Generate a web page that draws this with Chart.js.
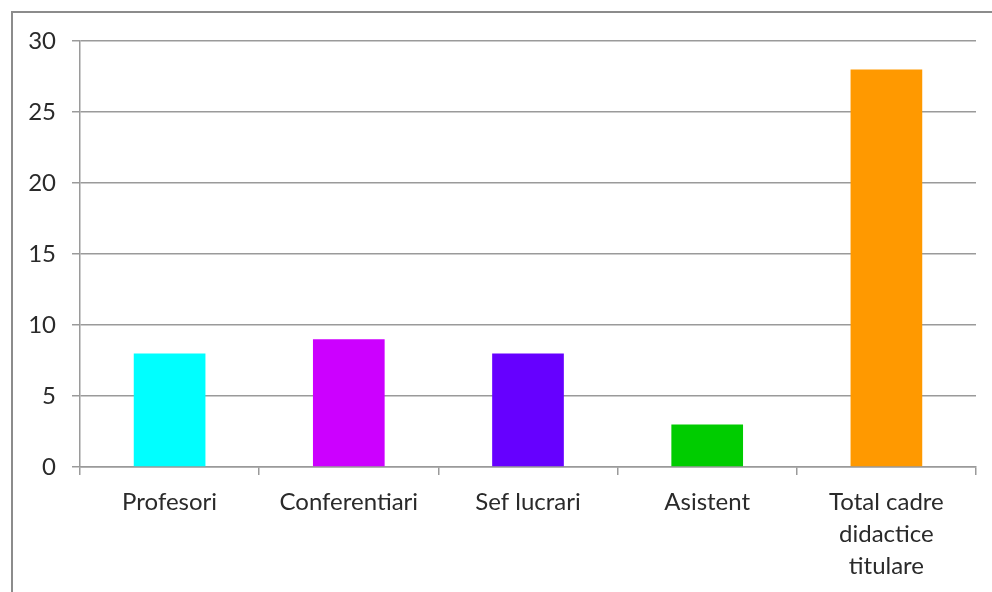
<!DOCTYPE html>
<html>
<head>
<meta charset="utf-8">
<script src="https://cdn.jsdelivr.net/npm/chart.js@4/dist/chart.umd.min.js"></script>
<style>
  html, body { margin: 0; padding: 0; background: #fff; }
  #wrap { width: 992px; height: 592px; }
</style>
</head>
<body>
<div id="wrap"><canvas id="chart" width="992" height="592"></canvas></div>
<script>
const categories = [
    "Profesori",
    "Conferentiari",
    "Sef lucrari",
    "Asistent",
    ["Total cadre", "didactice", "titulare"]
];
const values = [8, 9, 8, 3, 28];
const barColors = ["#00FFFF", "#CC00FF", "#6600FF", "#00CC00", "#FF9900"];
const yTicks = [0, 5, 10, 15, 20, 25, 30];

const gridColor = "#9a9a9a";

// outer frame (only top and left edges fall inside the picture)
const framePlugin = {
    id: "frame",
    afterDraw(chart) {
        const ctx = chart.ctx;
        ctx.save();
        ctx.strokeStyle = "#8c8c8c";
        ctx.lineWidth = 2;
        ctx.beginPath();
        ctx.moveTo(12, 600);
        ctx.lineTo(12, 12);
        ctx.lineTo(1000, 12);
        ctx.stroke();
        ctx.restore();
    }
};

new Chart(document.getElementById("chart"), {
    type: "bar",
    data: {
        labels: categories,
        datasets: [{
            data: values,
            backgroundColor: barColors,
            borderWidth: 0,
            barPercentage: 0.4,
            categoryPercentage: 1
        }]
    },
    options: {
        responsive: false,
        animation: false,
        layout: { padding: { top: 41, right: 16, left: 0, bottom: 0 } },
        plugins: {
            legend: { display: false },
            tooltip: { enabled: false }
        },
        scales: {
            x: {
                offset: true,
                grid: {
                    offset: true,
                    drawOnChartArea: false,
                    drawTicks: true,
                    tickLength: 8,
                    color: gridColor,
                    lineWidth: 1.5
                },
                border: { display: true, color: gridColor, width: 1.5 },
                ticks: {
                    color: "#2a2a2a",
                    font: { family: "Lato", size: 24, lineHeight: 1.34 },
                    padding: 11,
                    maxRotation: 0,
                    autoSkip: false
                },
                afterFit(scale) { scale.height = 125; }
            },
            y: {
                min: 0,
                max: 30,
                afterBuildTicks(scale) {
                    scale.ticks = yTicks.map(v => ({ value: v }));
                },
                grid: {
                    color: gridColor,
                    lineWidth: 1.5,
                    drawTicks: true,
                    tickLength: 8
                },
                border: { display: true, color: gridColor, width: 1.5 },
                ticks: {
                    color: "#2a2a2a",
                    font: { family: "Lato", size: 24 },
                    padding: 16
                },
                afterFit(scale) { scale.width = 80; }
            }
        }
    },
    plugins: [framePlugin]
});
</script>
</body>
</html>
